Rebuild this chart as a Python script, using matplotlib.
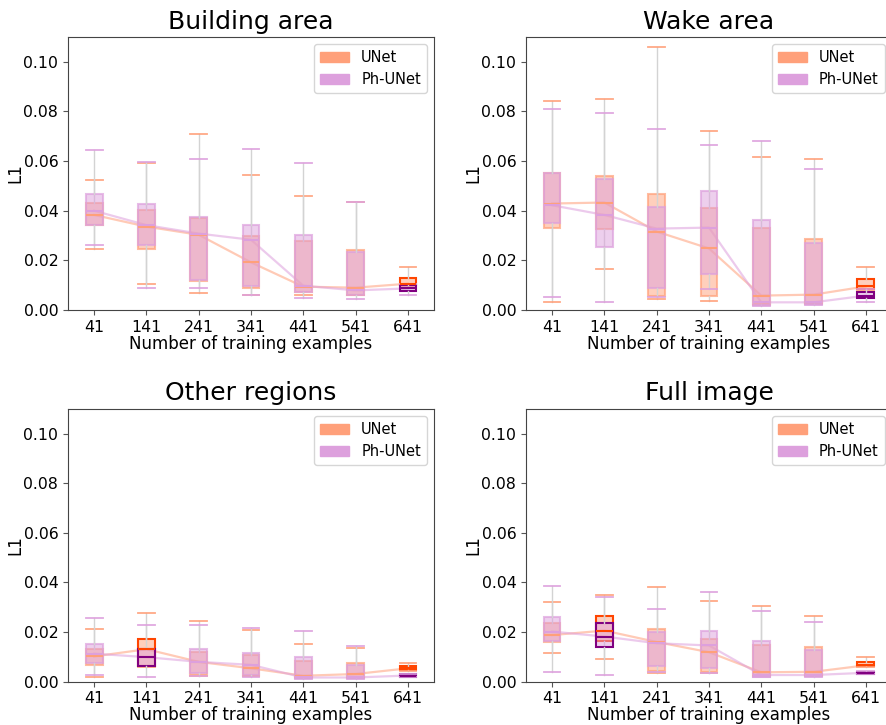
import matplotlib
matplotlib.use("Agg")
import matplotlib.pyplot as plt
from matplotlib.colors import to_rgb
from matplotlib.patches import Patch

# L1 error vs. training set size, box stats per model
n_train = [41, 141, 241, 341, 441, 541, 641]

# Building area
bld_unet_lo = [0.0245, 0.0103, 0.0070, 0.0062, 0.0062, 0.0060, 0.0095]
bld_unet_q1 = [0.0342, 0.0245, 0.0118, 0.0087, 0.0071, 0.0062, 0.0100]
bld_unet_med = [0.0383, 0.0336, 0.0303, 0.0192, 0.0094, 0.0090, 0.0106]
bld_unet_q3 = [0.0430, 0.0402, 0.0369, 0.0299, 0.0277, 0.0241, 0.0129]
bld_unet_hi = [0.0524, 0.0594, 0.0710, 0.0544, 0.0461, 0.0436, 0.0173]
bld_ph_lo = [0.0263, 0.0088, 0.0088, 0.0062, 0.0050, 0.0044, 0.0060]
bld_ph_q1 = [0.0342, 0.0263, 0.0122, 0.0098, 0.0071, 0.0062, 0.0075]
bld_ph_med = [0.0400, 0.0342, 0.0308, 0.0283, 0.0098, 0.0079, 0.0087]
bld_ph_q3 = [0.0466, 0.0426, 0.0373, 0.0342, 0.0302, 0.0235, 0.0100]
bld_ph_hi = [0.0645, 0.0597, 0.0610, 0.0647, 0.0594, 0.0436, 0.0105]

# Wake area
wake_unet_lo = [0.0031, 0.0165, 0.0043, 0.0038, 0.0020, 0.0025, 0.0075]
wake_unet_q1 = [0.0332, 0.0326, 0.0058, 0.0058, 0.0024, 0.0028, 0.0083]
wake_unet_med = [0.0429, 0.0433, 0.0316, 0.0248, 0.0058, 0.0062, 0.0095]
wake_unet_q3 = [0.0551, 0.0539, 0.0469, 0.0409, 0.0330, 0.0287, 0.0126]
wake_unet_hi = [0.0843, 0.0849, 0.1060, 0.0722, 0.0618, 0.0609, 0.0173]
wake_ph_lo = [0.0051, 0.0031, 0.0051, 0.0084, 0.0017, 0.0022, 0.0034]
wake_ph_q1 = [0.0349, 0.0252, 0.0087, 0.0147, 0.0020, 0.0024, 0.0047]
wake_ph_med = [0.0422, 0.0383, 0.0328, 0.0332, 0.0031, 0.0031, 0.0058]
wake_ph_q3 = [0.0551, 0.0527, 0.0416, 0.0480, 0.0362, 0.0268, 0.0071]
wake_ph_hi = [0.0808, 0.0792, 0.0730, 0.0666, 0.0681, 0.0570, 0.0085]

# Other regions
oth_unet_lo = [0.0021, 0.0058, 0.0025, 0.0022, 0.0015, 0.0015, 0.0044]
oth_unet_q1 = [0.0068, 0.0062, 0.0027, 0.0024, 0.0017, 0.0017, 0.0046]
oth_unet_med = [0.0102, 0.0131, 0.0080, 0.0054, 0.0024, 0.0031, 0.0054]
oth_unet_q3 = [0.0131, 0.0173, 0.0121, 0.0107, 0.0082, 0.0075, 0.0064]
oth_unet_hi = [0.0214, 0.0276, 0.0245, 0.0209, 0.0151, 0.0135, 0.0075]
oth_ph_lo = [0.0027, 0.0017, 0.0025, 0.0020, 0.0012, 0.0012, 0.0020]
oth_ph_q1 = [0.0075, 0.0064, 0.0035, 0.0028, 0.0013, 0.0013, 0.0021]
oth_ph_med = [0.0113, 0.0099, 0.0080, 0.0068, 0.0017, 0.0017, 0.0025]
oth_ph_q3 = [0.0151, 0.0131, 0.0133, 0.0115, 0.0099, 0.0068, 0.0030]
oth_ph_hi = [0.0255, 0.0228, 0.0228, 0.0218, 0.0206, 0.0142, 0.0032]

# Full image
full_unet_lo = [0.0115, 0.0091, 0.0035, 0.0035, 0.0022, 0.0022, 0.0058]
full_unet_q1 = [0.0158, 0.0165, 0.0042, 0.0038, 0.0024, 0.0025, 0.0062]
full_unet_med = [0.0188, 0.0206, 0.0160, 0.0119, 0.0038, 0.0040, 0.0066]
full_unet_q3 = [0.0236, 0.0264, 0.0212, 0.0173, 0.0147, 0.0139, 0.0080]
full_unet_hi = [0.0323, 0.0351, 0.0383, 0.0327, 0.0304, 0.0265, 0.0099]
full_ph_lo = [0.0039, 0.0028, 0.0040, 0.0035, 0.0019, 0.0020, 0.0030]
full_ph_q1 = [0.0165, 0.0139, 0.0062, 0.0055, 0.0021, 0.0024, 0.0032]
full_ph_med = [0.0202, 0.0182, 0.0155, 0.0146, 0.0027, 0.0027, 0.0036]
full_ph_q3 = [0.0260, 0.0236, 0.0201, 0.0205, 0.0166, 0.0129, 0.0040]
full_ph_hi = [0.0385, 0.0343, 0.0294, 0.0363, 0.0284, 0.0240, 0.0043]

titles = ["Building area", "Wake area", "Other regions", "Full image"]
# indices of the boxes drawn with a strong outline
highlights = [[6], [6], [1, 6], [1, 6]]
yticks = [0.0, 0.02, 0.04, 0.06, 0.08, 0.10]

UNET_C, UNET_EDGE = "lightsalmon", "orangered"
PH_C, PH_EDGE = "plum", "purple"
BOX_W = 0.32


def make_stats(lo, q1, med, q3, hi):
    return [dict(whislo=a, q1=b, med=c, q3=d, whishi=e, fliers=[])
            for a, b, c, d, e in zip(lo, q1, med, q3, hi)]


def draw_model(ax, stats, color, edge, hl):
    pos = list(range(1, len(stats) + 1))
    bp = ax.bxp(stats, positions=pos, widths=BOX_W, capwidths=BOX_W,
                patch_artist=True, showfliers=False, manage_ticks=False)
    face = (*to_rgb(color), 0.5)
    for i, box in enumerate(bp["boxes"]):
        box.set_facecolor(face)
        box.set_edgecolor(edge if i in hl else (*to_rgb(color), 0.7))
        box.set_linewidth(1.5)
    for i, m in enumerate(bp["medians"]):
        m.set_color(edge if i in hl else color)
        m.set_linewidth(1.5)
    for wl in bp["whiskers"]:
        wl.set_color("lightgray")
        wl.set_linewidth(1.0)
    for c in bp["caps"]:
        c.set_color(color)
        c.set_alpha(0.9)
        c.set_linewidth(1.3)
    meds = [s["med"] for s in stats]
    ax.plot(pos, meds, color=color, alpha=0.55, lw=1.6, zorder=1)


panels = [
    (make_stats(bld_unet_lo, bld_unet_q1, bld_unet_med, bld_unet_q3, bld_unet_hi),
     make_stats(bld_ph_lo, bld_ph_q1, bld_ph_med, bld_ph_q3, bld_ph_hi)),
    (make_stats(wake_unet_lo, wake_unet_q1, wake_unet_med, wake_unet_q3, wake_unet_hi),
     make_stats(wake_ph_lo, wake_ph_q1, wake_ph_med, wake_ph_q3, wake_ph_hi)),
    (make_stats(oth_unet_lo, oth_unet_q1, oth_unet_med, oth_unet_q3, oth_unet_hi),
     make_stats(oth_ph_lo, oth_ph_q1, oth_ph_med, oth_ph_q3, oth_ph_hi)),
    (make_stats(full_unet_lo, full_unet_q1, full_unet_med, full_unet_q3, full_unet_hi),
     make_stats(full_ph_lo, full_ph_q1, full_ph_med, full_ph_q3, full_ph_hi)),
]

fig = plt.figure(figsize=(8.87, 7.25), dpi=100)
w, h = 0.4126, 0.3766
rects = [(0.0767, 0.5724, w, h), (0.593, 0.5724, w, h),
         (0.0767, 0.0597, w, h), (0.593, 0.0597, w, h)]

for k, (rect, (unet, ph)) in enumerate(zip(rects, panels)):
    ax = fig.add_axes(rect)
    draw_model(ax, unet, UNET_C, UNET_EDGE, highlights[k])
    draw_model(ax, ph, PH_C, PH_EDGE, highlights[k])
    ax.set_xlim(0.5, 7.5)
    ax.set_ylim(0, 0.11)
    ax.set_yticks(yticks)
    ax.set_yticklabels([f"{v:.2f}" for v in yticks])
    ax.set_xticks(range(1, 8))
    ax.set_xticklabels([str(n) for n in n_train])
    ax.tick_params(labelsize=11.3, color="#555555")
    for s in ax.spines.values():
        s.set_color("#444444")
    ax.set_title(titles[k], fontsize=18)
    ax.set_xlabel("Number of training examples", fontsize=12, labelpad=0)
    ax.set_ylabel("L1", fontsize=12)
    ax.yaxis.set_label_coords(-0.12, 0.5)
    ax.legend(handles=[Patch(color=UNET_C, label="UNet"),
                       Patch(color=PH_C, label="Ph-UNet")],
              loc="upper right", fontsize=10.5)

fig.savefig("out.png", dpi=100)
